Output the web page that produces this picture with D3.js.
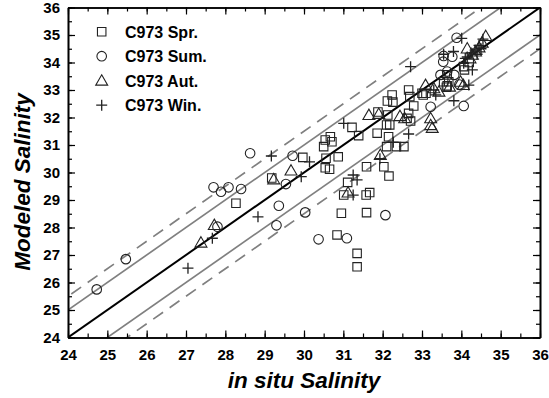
<!DOCTYPE html>
<html><head><meta charset="utf-8">
<script src="https://cdn.jsdelivr.net/npm/d3@7"></script>
<style>body{margin:0;background:#fff}svg{display:block}</style>
</head><body>
<script>
const xTickValues = [24,25,26,27,28,29,30,31,32,33,34,35,36];
const yTickValues = [24,25,26,27,28,29,30,31,32,33,34,35,36];
const seriesNames = ["C973 Spr.","C973 Sum.","C973 Aut.","C973 Win."];
const refOffsets = [-1.5,-1,0,1,1.5];

const spring = [[28.27,28.88],[29.18,29.80],[29.97,30.55],[30.50,30.94],[30.54,31.18],[30.67,31.30],[30.71,31.12],[30.56,30.52],[30.87,30.57],[30.54,30.17],[30.65,30.12],[31.59,30.21],[31.11,29.64],[31.01,29.18],[31.58,29.18],[31.67,29.27],[30.95,28.52],[31.59,28.54],[30.84,27.73],[31.35,27.06],[31.35,26.57],[32.03,30.21],[32.16,29.87],[32.10,30.94],[32.35,30.94],[32.54,30.94],[31.22,31.64],[31.39,31.34],[31.86,31.43],[32.15,31.30],[32.10,31.73],[32.18,31.73],[32.13,32.09],[31.88,32.20],[32.24,32.82],[32.12,32.60],[32.26,32.56],[32.66,33.00],[33.00,32.88],[32.69,32.76],[32.79,32.42],[32.66,32.15],[32.62,31.97],[32.71,31.87],[33.03,32.82],[33.10,32.88],[33.64,33.55],[33.55,33.30],[33.68,33.30],[33.64,33.15],[34.06,33.85],[34.08,33.73],[34.20,34.00],[33.62,33.10]];
const summer = [[24.73,25.75],[25.47,26.85],[27.70,29.46],[27.89,29.30],[28.08,29.46],[28.40,29.40],[28.63,30.70],[29.71,30.61],[29.54,29.58],[29.36,28.79],[30.03,28.55],[29.30,28.08],[27.80,28.03],[30.37,27.57],[31.09,27.61],[32.07,28.45],[33.22,32.39],[34.06,32.42],[33.88,34.90],[33.55,34.24],[33.77,34.21],[33.54,34.03],[33.64,33.67],[33.82,33.55],[33.47,33.55],[33.95,33.20]];
const autumn = [[27.38,27.45],[27.72,28.09],[29.23,29.75],[29.67,30.07],[31.12,29.27],[31.94,30.64],[31.65,32.09],[31.90,32.13],[32.44,32.05],[32.56,31.97],[33.22,31.97],[33.22,31.72],[33.26,31.62],[33.09,33.18],[33.30,33.06],[33.43,32.94],[33.98,33.30],[34.05,33.18],[34.15,34.51],[34.62,34.96],[34.53,34.72],[34.45,34.55],[34.36,34.40],[34.28,34.28],[34.22,34.15],[33.70,33.12]];
const winter = [[27.05,26.52],[27.67,27.61],[28.83,28.39],[29.17,30.60],[29.93,29.85],[30.14,30.39],[31.01,31.79],[31.25,29.91],[31.35,29.73],[31.25,29.18],[31.93,30.50],[32.27,31.10],[32.66,31.40],[32.71,33.85],[34.01,34.88],[33.81,32.61],[34.19,33.18],[34.28,33.73],[34.06,33.97],[33.55,34.30],[33.80,34.40],[34.10,34.15],[33.30,33.00],[33.35,32.82],[34.40,34.30],[34.50,34.50],[34.55,34.85],[34.45,34.62],[34.35,34.45],[34.25,34.35],[34.15,34.20]];

const W = 549, H = 398;
const m = {left:68, right:9, top:7.5, bottom:60.5};
const svg = d3.select("body").append("svg").attr("width",W).attr("height",H);
const x = d3.scaleLinear().domain([24,36]).range([m.left, W-m.right]);
const y = d3.scaleLinear().domain([24,36]).range([H-m.bottom, m.top]);

svg.append("clipPath").attr("id","clip").append("rect")
  .attr("x",x(24)).attr("y",y(36)).attr("width",x(36)-x(24)).attr("height",y(24)-y(36));

const gLines = svg.append("g").attr("clip-path","url(#clip)");
const lineGen = d3.line().x(d=>x(d[0])).y(d=>y(d[1]));
refOffsets.forEach(o=>{
  const pts = [[22,22+o],[38,38+o]];
  gLines.append("path").attr("d",lineGen(pts)).attr("fill","none")
    .attr("stroke", o===0 ? "#000" : "#808080")
    .attr("stroke-width", o===0 ? 2 : 1.7)
    .attr("stroke-dasharray", Math.abs(o)===1.5 ? "12,8" : null);
});

const sym = {
  sq: d3.symbol().type(d3.symbolSquare).size(72),
  ci: d3.symbol().type(d3.symbolCircle).size(72),
  tr: d3.symbol().type(d3.symbolTriangle).size(62)
};
function plus(g, cx, cy){
  const s=5.5;
  g.append("path").attr("d",`M${cx-s},${cy}H${cx+s}M${cx},${cy-s}V${cy+s}`)
   .attr("stroke","#222").attr("stroke-width",1.3).attr("fill","none");
}
const gPts = svg.append("g");
function drawSet(data, kind){
  data.forEach(d=>{
    const cx=x(d[0]), cy=y(d[1]);
    if(kind==="pl"){ plus(gPts,cx,cy); return; }
    gPts.append("path").attr("d",sym[kind]()).attr("transform",`translate(${cx},${cy+(kind==="tr"?1:0)})`)
      .attr("fill","none").attr("stroke","#222").attr("stroke-width",1.1);
  });
}
drawSet(spring,"sq"); drawSet(summer,"ci"); drawSet(autumn,"tr"); drawSet(winter,"pl");

const fontFam = "Arial, 'Liberation Sans', Helvetica, sans-serif";
const minorX = d3.range(24,36.01,0.5);
svg.append("g").attr("transform",`translate(0,${y(24)})`)
  .call(d3.axisBottom(x).tickValues(xTickValues).tickSizeInner(-7).tickSizeOuter(0).tickPadding(12));
svg.append("g").attr("transform",`translate(${x(24)},0)`)
  .call(d3.axisLeft(y).tickValues(yTickValues).tickSizeInner(-7).tickSizeOuter(0).tickPadding(8));
svg.append("g").attr("transform",`translate(0,${y(36)})`)
  .call(d3.axisTop(x).tickValues(xTickValues).tickSizeInner(-7).tickSizeOuter(0).tickFormat(""));
svg.append("g").attr("transform",`translate(${x(36)},0)`)
  .call(d3.axisRight(y).tickValues(yTickValues).tickSizeInner(-7).tickSizeOuter(0).tickFormat(""));
svg.append("g").attr("transform",`translate(0,${y(24)})`).call(d3.axisBottom(x).tickValues(minorX).tickSizeInner(-4).tickSizeOuter(0).tickFormat(""));
svg.append("g").attr("transform",`translate(0,${y(36)})`).call(d3.axisTop(x).tickValues(minorX).tickSizeInner(-4).tickSizeOuter(0).tickFormat(""));
svg.append("g").attr("transform",`translate(${x(24)},0)`).call(d3.axisLeft(y).tickValues(minorX).tickSizeInner(-4).tickSizeOuter(0).tickFormat(""));
svg.append("g").attr("transform",`translate(${x(36)},0)`).call(d3.axisRight(y).tickValues(minorX).tickSizeInner(-4).tickSizeOuter(0).tickFormat(""));
svg.selectAll(".domain").attr("stroke","#000").attr("stroke-width",1.6);
svg.selectAll(".tick line").attr("stroke","#000").attr("stroke-width",1.2);
svg.selectAll(".tick text").attr("font-family",fontFam).attr("font-size",15).attr("font-weight","bold").attr("fill","#000");

svg.append("text").attr("x",(x(24)+x(36))/2).attr("y",388).attr("text-anchor","middle")
  .attr("font-family",fontFam).attr("font-size",22.5).attr("font-weight","bold").attr("font-style","italic").text("in situ Salinity");
svg.append("text").attr("transform",`translate(30,182) rotate(-90)`).attr("text-anchor","middle")
  .attr("font-family",fontFam).attr("font-size",22.5).attr("font-weight","bold").attr("font-style","italic").text("Modeled Salinity");

const kinds = ["sq","ci","tr","pl"];
const leg = svg.append("g");
seriesNames.forEach((n,i)=>{
  const ly = 31.7 + i*24.5;
  if(kinds[i]==="pl") plus(leg,101.7,ly);
  else leg.append("path").attr("d",sym[kinds[i]]()).attr("transform",`translate(101.7,${ly+(kinds[i]==="tr"?1:0)})`)
    .attr("fill","none").attr("stroke","#222").attr("stroke-width",1.1);
  leg.append("text").attr("x",125).attr("y",ly+6).attr("font-family",fontFam).attr("font-size",16)
    .attr("font-weight","bold").text(n);
});
</script>
</body></html>
